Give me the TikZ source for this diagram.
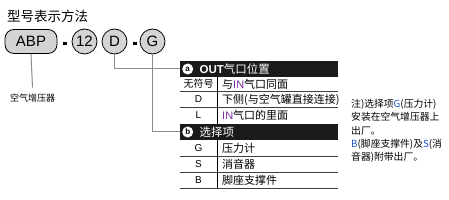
\documentclass[tikz,border=0pt]{standalone}
\usepackage{fontspec}
\setmainfont{Liberation Sans}
\newfontfamily\cjk{Noto Sans CJK SC}
\usetikzlibrary{positioning}
\definecolor{codefill}{HTML}{D4D4D4}
\definecolor{leadgray}{HTML}{8C8C8C}
\definecolor{barblack}{HTML}{1A1A1A}
\definecolor{noteblue}{HTML}{1E50D0}
\definecolor{inviolet}{HTML}{7A2E9E}

\begin{document}
\begin{tikzpicture}[
        x=1pt, y=-1pt,
        % Define styles for the code row
        code_base/.style={draw=black, line width=0.8pt, fill=codefill, inner sep=0pt, font=\fontsize{15}{18}\selectfont},
        code_box/.style={code_base, minimum width=52pt, minimum height=24pt, rounded corners=9pt},
        code_circle/.style={code_base, circle, minimum size=25pt},
        code_dash/.style={fill=black, inner sep=0pt, minimum width=4pt, minimum height=3pt},
        lead/.style={draw=leadgray, line width=1pt},
        small_label/.style={inner xsep=0pt, inner ysep=6pt, font=\fontsize{9}{11}\selectfont\cjk},
        % Define styles for the table
        head_bar/.style={fill=barblack, minimum width=158pt, minimum height=16.5pt, inner sep=0pt, anchor=west},
        badge/.style={circle, fill=white, inner sep=0pt, minimum size=11pt, font=\fontsize{8}{8}\selectfont\bfseries},
        head_text/.style={text=white, inner sep=0pt, anchor=west, font=\fontsize{11.5}{13}\selectfont},
        key_text/.style={inner sep=0pt, font=\fontsize{10}{12}\selectfont},
        desc_text/.style={inner sep=0pt, anchor=west, font=\fontsize{11}{12}\selectfont\cjk},
        row_rule/.style={draw=black!75, line width=0.7pt},
        col_rule/.style={draw=black, line width=0.6pt},
        note_text/.style={inner sep=0pt, anchor=north west, align=left, font=\fontsize{9.8}{13.3}\selectfont\cjk}
    ]

    \useasboundingbox (0,0) rectangle (449,200);

    % === Title and code row ===
    \node (title) [anchor=west, inner sep=0pt, font=\fontsize{13.5}{16}\selectfont\cjk] at (7,16.5) {型号表示方法};

    \node (abp) [code_box] at (31,41.5) {ABP};
    \node (dash1) [code_dash] at (65,43.5) {};
    \node (size12) [code_circle] at (84.5,41.5) {12};
    \node (pos) [code_circle] at (114.5,41.5) {D};
    \node (dash2) [code_dash] at (135,43.5) {};
    \node (opt) [code_circle] at (152.5,41.5) {G};

    \node (abp_label) [small_label] at (32.5,98) {空气增压器};
    \draw [lead] (abp.south) -- (abp_label.north);

    % === Table a: OUT port position ===
    \node (head_a) [head_bar] at (180,69) {};
    \node (badge_a) [badge, right=2pt of head_a.west] {a};
    \node (title_a) [head_text, right=6pt of badge_a] {{\bfseries OUT}{\cjk 气口位置}};
    \draw [lead] (pos.south) |- (head_a.west);

    \node (key_a1) [key_text, font=\fontsize{10}{12}\selectfont\cjk] at (198.5,84) {无符号};
    \node (desc_a1) [desc_text] at (222,84) {与{\fontspec{Liberation Sans}\color{inviolet}IN}气口同面};
    \node (key_a2) [key_text] at (198.5,99.5) {D};
    \node (desc_a2) [desc_text] at (222,99.5) {下侧(与空气罐直接连接)};
    \node (key_a3) [key_text] at (198.5,115.5) {L};
    \node (desc_a3) [desc_text] at (222,115.5) {{\fontspec{Liberation Sans}\color{inviolet}IN}气口的里面};

    % === Table b: options ===
    \node (head_b) [head_bar] at (180,132) {};
    \node (badge_b) [badge, right=2pt of head_b.west] {b};
    \node (title_b) [head_text, right=6pt of badge_b, font=\fontsize{11.5}{13}\selectfont\cjk] {选择项};
    \draw [lead] (opt.south) |- (head_b.west);

    \node (key_b1) [key_text] at (198.5,148.5) {G};
    \node (desc_b1) [desc_text] at (222,148.5) {压力计};
    \node (key_b2) [key_text] at (198.5,164.5) {S};
    \node (desc_b2) [desc_text] at (222,164.5) {消音器};
    \node (key_b3) [key_text] at (198.5,180.5) {B};
    \node (desc_b3) [desc_text] at (222,180.5) {脚座支撑件};

    % Table rules
    \foreach \y in {91.5,107,156,172,188}
        \draw [row_rule] (180,\y) -- (338,\y);
    \draw [col_rule] (217,77.25) -- (217,123.75);
    \draw [col_rule] (217,140.25) -- (217,188);

    % === Note ===
    \node (note) [note_text] at (351,99) {注)选择项{\color{noteblue}G}(压力计)\\安装在空气增压器上\\出厂。\\{\color{noteblue}B}(脚座支撑件)及{\color{noteblue}S}(消\\音器)附带出厂。};

\end{tikzpicture}
\end{document}
